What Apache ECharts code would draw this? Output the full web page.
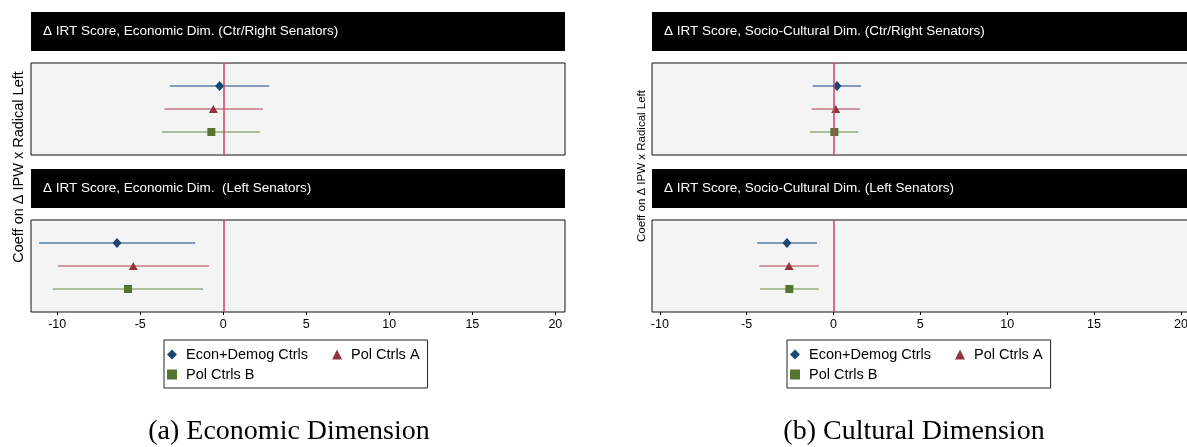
<!DOCTYPE html>
<html>
<head>
<meta charset="utf-8">
<script src="https://cdn.jsdelivr.net/npm/echarts@6/dist/echarts.min.js"></script>
<style>
html,body{margin:0;padding:0;background:#fff;}
#chart{width:1187px;height:447px;}
</style>
</head>
<body>
<div id="chart"></div>
<script>
// ---- data ----
const modelNames = ['Econ+Demog Ctrls', 'Pol Ctrls A', 'Pol Ctrls B'];
const rowPos = [1, 2, 3];
const xTickValues = [-10, -5, 0, 5, 10, 15, 20];

const headerTexts = [
  '\u0394 IRT Score, Economic Dim. (Ctr/Right Senators)',
  '\u0394 IRT Score, Economic Dim.  (Left Senators)',
  '\u0394 IRT Score, Socio-Cultural Dim. (Ctr/Right Senators)',
  '\u0394 IRT Score, Socio-Cultural Dim. (Left Senators)'
];
const yTitle = 'Coeff on \u0394 IPW x Radical Left';
const captions = ['(a) Economic Dimension', '(b) Cultural Dimension'];

// Economic dimension, Ctr/Right senators
const econRightCoef = [-0.22, -0.60, -0.72];
const econRightLo   = [-3.21, -3.55, -3.69];
const econRightHi   = [2.77, 2.39, 2.21];
// Economic dimension, Left senators
const econLeftCoef = [-6.40, -5.42, -5.74];
const econLeftLo   = [-11.10, -9.96, -10.26];
const econLeftHi   = [-1.69, -0.86, -1.22];
// Cultural dimension, Ctr/Right senators
const cultRightCoef = [0.20, 0.13, 0.05];
const cultRightLo   = [-1.20, -1.26, -1.35];
const cultRightHi   = [1.58, 1.53, 1.43];
// Cultural dimension, Left senators
const cultLeftCoef = [-2.68, -2.56, -2.54];
const cultLeftLo   = [-4.39, -4.27, -4.23];
const cultLeftHi   = [-0.95, -0.84, -0.85];

// ---- styles ----
const markerColors = ['#1a476f', '#90353b', '#55752f'];
const ciColors = ['#5b7fa6', '#c57c84', '#98ad7c'];
const symbols = ['diamond', 'triangle', 'rect'];
const symbolSizes = [[9, 10], [9, 8], [8, 8]];
const zeroColor = '#d13f63';
const sans = '"Liberation Sans", Arial, sans-serif';

const panels = [
  {coef: econRightCoef, lo: econRightLo, hi: econRightHi},
  {coef: econLeftCoef, lo: econLeftLo, hi: econLeftHi},
  {coef: cultRightCoef, lo: cultRightLo, hi: cultRightHi},
  {coef: cultLeftCoef, lo: cultLeftLo, hi: cultLeftHi}
];

const gridBoxes = [
  {left: 31, top: 63, width: 534, height: 92},
  {left: 31, top: 220, width: 534, height: 92},
  {left: 652, top: 63, width: 536, height: 92},
  {left: 652, top: 220, width: 536, height: 92}
];
const xRanges = [[-11.58, 20.58], [-11.58, 20.58], [-10.45, 20.41], [-10.45, 20.41]];

const grids = gridBoxes.map(g => Object.assign({
  show: true, backgroundColor: '#f4f4f4', borderColor: '#111', borderWidth: 1,
  containLabel: false, outerBoundsMode: 'none'
}, g));

const xAxes = gridBoxes.map((g, i) => ({
  type: 'value', gridIndex: i, position: 'bottom', min: xRanges[i][0], max: xRanges[i][1],
  splitLine: {show: false},
  axisLine: {show: false, onZero: false},
  axisTick: {show: i % 2 === 1, inside: false, length: 3, lineStyle: {color: '#000'}, customValues: xTickValues},
  axisLabel: {show: i % 2 === 1, customValues: xTickValues, color: '#000', fontFamily: sans, fontSize: 12.5, margin: 6,
    formatter: v => String(v)}
}));

const yAxes = gridBoxes.map((g, i) => ({
  type: 'value', gridIndex: i, min: 0, max: 4, inverse: true, show: false,
  axisLine: {onZero: false},
  splitLine: {show: false}
}));

const series = [];
panels.forEach((p, pi) => {
  series.push({
    type: 'custom', name: 'ci' + pi, xAxisIndex: pi, yAxisIndex: pi, z: 2, silent: true,
    data: rowPos.map((r, k) => [p.lo[k], p.hi[k], r, k]),
    encode: {x: [0, 1], y: 2},
    renderItem: function (params, api) {
      const a = api.coord([api.value(0), api.value(2)]);
      const b = api.coord([api.value(1), api.value(2)]);
      return {type: 'line', shape: {x1: a[0], y1: a[1], x2: b[0], y2: b[1]},
        style: {stroke: ciColors[api.value(3)], lineWidth: 1.6}};
    },
    markLine: {
      silent: true, symbol: 'none', label: {show: false},
      lineStyle: {color: zeroColor, width: 1.5, type: 'solid'},
      data: [{xAxis: 0}], animation: false
    }
  });
  modelNames.forEach((name, k) => {
    series.push({
      type: 'scatter', name: name, xAxisIndex: pi, yAxisIndex: pi, z: 4,
      symbol: symbols[k], symbolSize: symbolSizes[k],
      itemStyle: {color: markerColors[k], opacity: 1},
      data: [[p.coef[k], rowPos[k]]]
    });
  });
});

const legendText = {color: '#000', fontFamily: sans, fontSize: 14.5, lineHeight: 14, padding: [0, 0, 0, 4]};
function legendRow(left, top, names, boxed) {
  return {
    left: left, top: top, orient: 'horizontal', itemGap: 24, itemWidth: 10, itemHeight: 10,
    selectedMode: false,
    padding: boxed ? [7, 8, 26, 3] : [0, 0, 0, 3],
    borderColor: boxed ? '#222' : 'transparent', borderWidth: boxed ? 1 : 0,
    textStyle: legendText,
    data: names.map(n => ({name: n, icon: symbols[modelNames.indexOf(n)]}))
  };
}
const legends = [
  legendRow(164, 340, [modelNames[0], modelNames[1]], true),
  legendRow(164, 367, [modelNames[2]], false),
  legendRow(787, 340, [modelNames[0], modelNames[1]], true),
  legendRow(787, 367, [modelNames[2]], false)
];

const headerBoxes = [
  {x: 31, y: 12, w: 534, h: 39},
  {x: 31, y: 169, w: 534, h: 39},
  {x: 652, y: 12, w: 540, h: 39},
  {x: 652, y: 169, w: 540, h: 39}
];
const graphics = [];
headerBoxes.forEach((h, i) => {
  graphics.push({type: 'rect', shape: {x: h.x, y: h.y, width: h.w, height: h.h}, style: {fill: '#000'}, silent: true});
  graphics.push({type: 'text', x: h.x + 12, y: h.y + h.h / 2, silent: true,
    style: {text: headerTexts[i], fill: '#fff', font: '13.5px ' + sans, align: 'left', verticalAlign: 'middle'}});
});
graphics.push({type: 'text', x: 19, y: 167, rotation: Math.PI / 2, silent: true,
  style: {text: yTitle, fill: '#000', font: '14.5px ' + sans, align: 'center', verticalAlign: 'middle'}});
graphics.push({type: 'text', x: 642, y: 166, rotation: Math.PI / 2, silent: true,
  style: {text: yTitle, fill: '#000', font: '11.5px ' + sans, align: 'center', verticalAlign: 'middle'}});
graphics.push({type: 'text', x: 289, y: 432, silent: true,
  style: {text: captions[0], fill: '#000', font: '28px "Liberation Serif", serif', align: 'center', verticalAlign: 'middle'}});
graphics.push({type: 'text', x: 914, y: 432, silent: true,
  style: {text: captions[1], fill: '#000', font: '28px "Liberation Serif", serif', align: 'center', verticalAlign: 'middle'}});

const chart = echarts.init(document.getElementById('chart'), null, {renderer: 'canvas'});
chart.setOption({
  animation: false,
  backgroundColor: '#fff',
  grid: grids,
  xAxis: xAxes,
  yAxis: yAxes,
  legend: legends,
  graphic: graphics,
  series: series
});
</script>
</body>
</html>
